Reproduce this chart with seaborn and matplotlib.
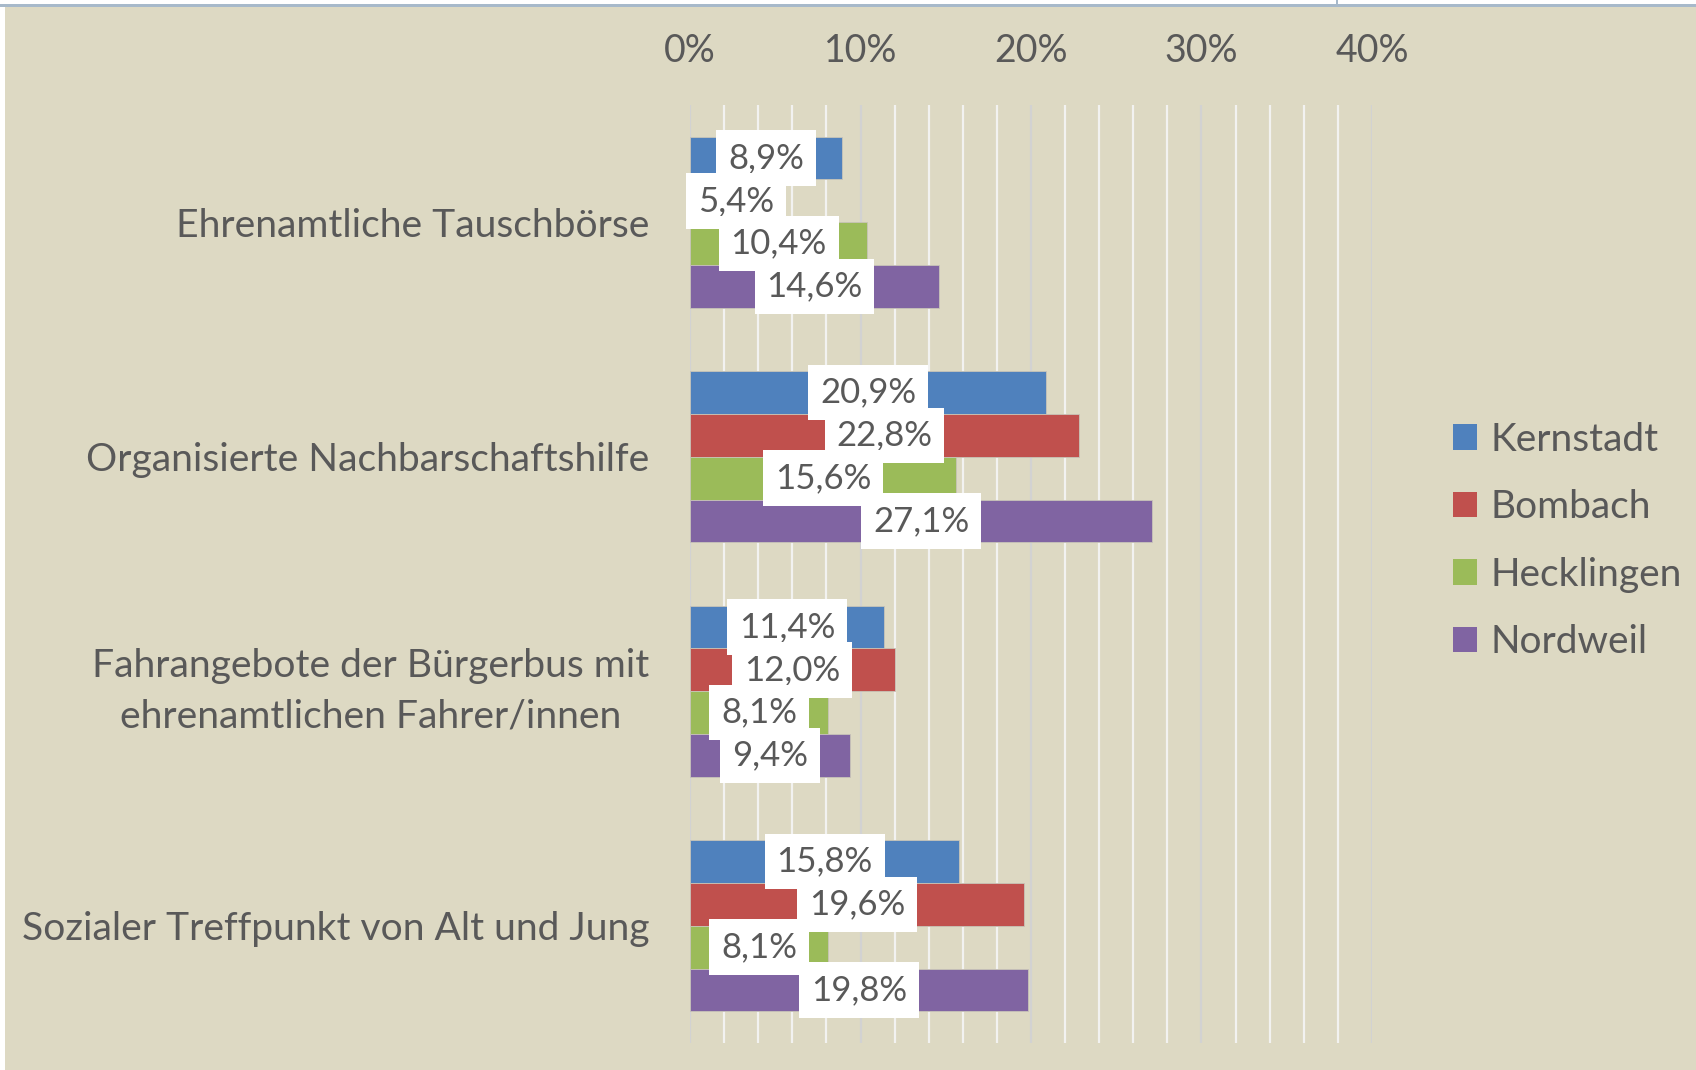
import matplotlib
matplotlib.use("Agg")
import matplotlib.pyplot as plt
import seaborn as sns
import pandas as pd
from matplotlib.patches import Patch, Rectangle
from matplotlib.ticker import FuncFormatter, MultipleLocator

# ---- data ----
categories = [
    "Ehrenamtliche Tauschbörse",
    "Organisierte Nachbarschaftshilfe",
    "Fahrangebote der Bürgerbus mit\nehrenamtlichen Fahrer/innen",
    "Sozialer Treffpunkt von Alt und Jung",
]
regions = ["Kernstadt", "Bombach", "Hecklingen", "Nordweil"]
kernstadt = [8.9, 20.9, 11.4, 15.8]
bombach = [5.4, 22.8, 12.0, 19.6]
hecklingen = [10.4, 15.6, 8.1, 8.1]
nordweil = [14.6, 27.1, 9.4, 19.8]
x_ticks = [0, 10, 20, 30, 40]

series = {"Kernstadt": kernstadt, "Bombach": bombach,
          "Hecklingen": hecklingen, "Nordweil": nordweil}
rows = []
for r in regions:
    for c, v in zip(categories, series[r]):
        rows.append({"Kategorie": c, "Ort": r, "Wert": v})
df = pd.DataFrame(rows)

colors = ["#4F81BD", "#C0504D", "#9BBB59", "#8064A2"]
BG = "#DDD9C3"
TXT = "#595959"
FONT = ["Lato", "DejaVu Sans"]
FS_DATA = 25
FS_TICK = 27
FS_CAT = 28.1
FS_LEG = 28

sns.set_theme(style="white")
plt.rcParams["font.family"] = FONT

fig = plt.figure(figsize=(16.96, 10.70), dpi=100, facecolor=BG)
W, H = 1696, 1070
ax = fig.add_axes([690 / W, 27 / H, (1372 - 690) / W, (1043 - 105) / H])
ax.set_facecolor(BG)

sns.barplot(data=df, x="Wert", y="Kategorie", hue="Ort", hue_order=regions,
            order=categories, orient="h", palette=colors, width=0.73,
            saturation=1, legend=False, ax=ax, errorbar=None,
            edgecolor="#C8C4B8", linewidth=0.6)

# data labels
for cont, r in zip(ax.containers, regions):
    labs = [f"{v:.1f}%".replace(".", ",") for v in series[r]]
    ax.bar_label(cont, labels=labs, label_type="center", fontsize=FS_DATA,
                 color=TXT, family=FONT,
                 bbox=dict(boxstyle="square,pad=0.34", fc="white", ec="none"))

ax.set_xlim(0, 40)
ax.set_ylim(3.5, -0.5)
ax.set_xticks(x_ticks)
ax.xaxis.set_minor_locator(MultipleLocator(2))
ax.xaxis.set_major_formatter(FuncFormatter(lambda v, p: f"{v:.0f}%"))
ax.xaxis.tick_top()
ax.tick_params(axis="x", which="both", length=0, pad=26, labelsize=FS_TICK,
               labelcolor=TXT)
ax.tick_params(axis="y", length=0, pad=29, labelsize=FS_CAT, labelcolor=TXT)
for t in ax.get_yticklabels():
    t.set_multialignment("center")
    t.set_linespacing(1.5)
    if "\n" in t.get_text():
        t.set_verticalalignment("center")
ax.set_xlabel("")
ax.set_ylabel("")
ax.grid(False)
ax.grid(which="major", axis="x", color="#D2D2D2", lw=1.6)
ax.grid(which="minor", axis="x", color="#F2F2F0", lw=1.6)
ax.set_axisbelow(True)
for s in ax.spines.values():
    s.set_visible(False)

handles = [Patch(facecolor=c, edgecolor="none") for c in colors]
fig.legend(handles, regions, loc="center left",
           bbox_to_anchor=(1418 / W, 1 - 541 / H), frameon=False,
           fontsize=FS_LEG, labelcolor=TXT, handlelength=0.62,
           handleheight=0.62, handletextpad=0.35, labelspacing=0.81)

# screenshot frame at top/left
fig.add_artist(Rectangle((0, 1 - 4 / H), 1, 4 / H, transform=fig.transFigure,
                         fc="white", ec="none"))
fig.add_artist(Rectangle((0, 1 - 7 / H), 1, 3 / H, transform=fig.transFigure,
                         fc="#A7B9CA", ec="none"))
fig.add_artist(Rectangle((0, 0), 5 / W, 1 - 7 / H, transform=fig.transFigure,
                         fc="white", ec="none"))
fig.add_artist(Rectangle((1336 / W, 1 - 4 / H), 1.5 / W, 4 / H,
                         transform=fig.transFigure, fc="#A7B9CA", ec="none"))

fig.savefig("out.png", dpi=100, facecolor=BG)
